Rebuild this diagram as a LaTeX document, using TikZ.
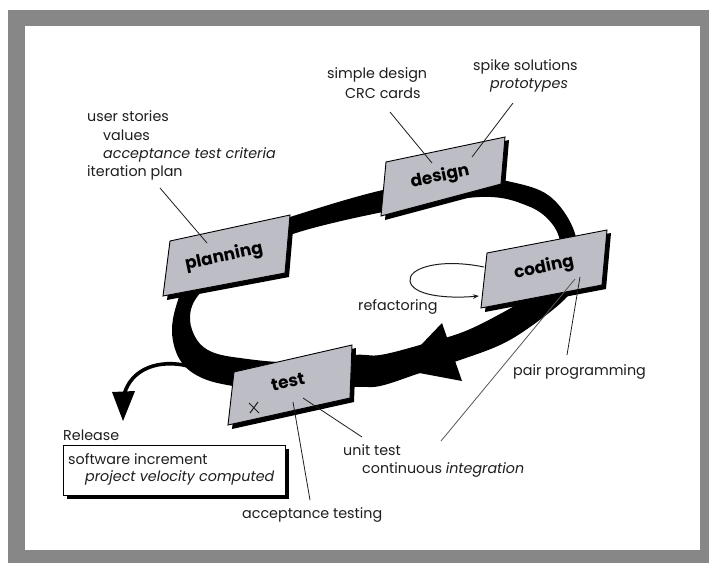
\documentclass[tikz,border=0pt]{standalone}
\usepackage{fontspec}
\setmainfont{Poppins}
\usetikzlibrary{arrows.meta}
\definecolor{framegray}{HTML}{878787}
\definecolor{cardgray}{HTML}{BDBDC6}
\definecolor{ink}{HTML}{1E1E1E}
\begin{document}
\begin{tikzpicture}[x=1pt,y=-1pt,
  lbl/.style={anchor=west, inner sep=0pt, text=ink, font=\fontsize{14.3}{16}\selectfont},
  ilbl/.style={lbl, font=\fontsize{14.3}{16}\selectfont\itshape},
  phase/.style={inner sep=0pt, rotate=12, text=black, font=\bfseries\fontsize{17}{19}\selectfont},
  leader/.style={draw=ink, line width=0.8pt},
  card/.style={fill=cardgray, draw=black, line width=0.9pt},
  cardshadow/.style={fill=black},
  band/.style={fill=black, even odd rule},
]
% frame
\fill[white] (0,0) rectangle (709,563);
\fill[framegray] (8,10) rectangle (709,563);
\fill[white] (25,26) rectangle (700,550);
\useasboundingbox (0,0) rectangle (709,563);

% iteration loop band
\fill[band]
  plot[smooth cycle, tension=0.6] coordinates {
    (178,300) (195,262) (240,235) (290,217) (383,190) (470,176) (507,181)
    (545,193) (568,218) (578,248) (575,282) (564,300) (530,327) (500,345)
    (460,360) (420,373) (380,386) (353,387) (290,392) (233,386) (200,377)
    (180,360) (172,332)}
  plot[smooth cycle, tension=0.6] coordinates {
    (195,300) (215,280) (255,258) (290,235) (383,212) (480,197) (528,206)
    (553,225) (561,250) (553,275) (528,297) (500,314) (463,332) (420,345)
    (380,355) (353,355) (290,362) (240,358) (212,352) (197,340) (190,320)};
% big arrowhead on the loop
\fill[black] (442,323) -- (462,381) -- (398,369) -- cycle;

% release branch
\coordinate (relstart) at (188,366);
\coordinate (relend) at (124,395);
\draw[line width=3.6pt] (relstart) .. controls (160,359) and (131,368) .. (relend);
\fill[black] (112,392) -- (135,391) -- (123,421) -- cycle;

% phase cards
\fill[cardshadow] (174,244) -- (294,218) -- (289,277) -- (167,300) -- cycle;
\draw[card] (170,241) -- (290,215) -- (285,273) -- (163,296) -- cycle;
\fill[cardshadow] (390,165) -- (509,140) -- (505,188) -- (385,220) -- cycle;
\draw[card] (386,162) -- (505,137) -- (501,184) -- (381,216) -- cycle;
\fill[cardshadow] (491,256) -- (611,233) -- (606,289) -- (485,312) -- cycle;
\draw[card] (487,253) -- (607,230) -- (602,285) -- (481,308) -- cycle;
\fill[cardshadow] (238,375) -- (356,348) -- (354,402) -- (232,429) -- cycle;
\draw[card] (234,372) -- (352,345) -- (350,398) -- (228,425) -- cycle;

\node[phase] (planning) at (224,257) {planning};
\node[phase] (design) at (440,177) {design};
\node[phase] (coding) at (544,268) {coding};
\node[phase] (test) at (288,382) {test};

% refactoring loop
\coordinate (rfa) at (484,267);
\coordinate (rfb) at (479,296);
\draw[draw=ink, line width=1pt, -{Stealth[length=6pt,width=4.5pt]}]
  (rfa) .. controls (440,258) and (408,268) .. (410,281)
        .. controls (412,295) and (445,299) .. (rfb);

% labels
\node[lbl] (us) at (87,116) {user stories};
\node[lbl] (val) at (103,135) {values};
\node[ilbl] (atc) at (103,155) {acceptance test criteria};
\node[lbl] (ip) at (87,173) {iteration plan};

\node[lbl] (sd) at (327,75) {simple design};
\node[lbl] (crc) at (345,93) {CRC cards};
\node[lbl] (ss) at (473,67) {spike solutions};
\node[ilbl] (proto) at (490,85) {prototypes};

\node[lbl] (refac) at (358,307) {refactoring};
\node[lbl] (pp) at (513,372) {pair programming};
\node[lbl] (ut) at (343,450) {unit test};
\node[lbl] (ci) at (362,470) {continuous \textit{integration}};
\node[lbl] (at) at (242,515) {acceptance testing};

\node[lbl] (rel) at (63,435) {Release};
\fill[black] (67,449) rectangle (289,499);
\draw[fill=white, draw=black, line width=0.9pt] (63,445) rectangle (285,495);
\node[lbl] (si) at (68,459) {software increment};
\node[ilbl] (pvc) at (85,478) {project velocity computed};

% leader lines
\coordinate (ipend) at (207,243);
\coordinate (sdend) at (432,163);
\coordinate (ssend) at (472,157);
\coordinate (ppend) at (580,277);
\coordinate (ciend) at (575,279);
\coordinate (utend) at (303,398);
\coordinate (atend) at (293,402);
\coordinate (ipstart) at (160,188);
\coordinate (sdstart) at (390,112);
\coordinate (ssstart) at (513,103);
\coordinate (ppstart) at (567,355);
\coordinate (cistart) at (441,441);
\coordinate (utstart) at (362,437);
\coordinate (atstart) at (310,500);
\draw[leader] (ipstart) -- (ipend);
\draw[leader] (sdstart) -- (sdend);
\draw[leader] (ssstart) -- (ssend);
\draw[leader] (ppstart) -- (ppend);
\draw[leader, draw=ink!75] (cistart) -- (ciend);
\draw[leader] (utstart) -- (utend);
\draw[leader] (atstart) -- (atend);
% small pen mark on the test card
\draw[leader, line width=1pt] (249,403) -- (259,413) (250,413) -- (258,402);
\end{tikzpicture}
\end{document}
